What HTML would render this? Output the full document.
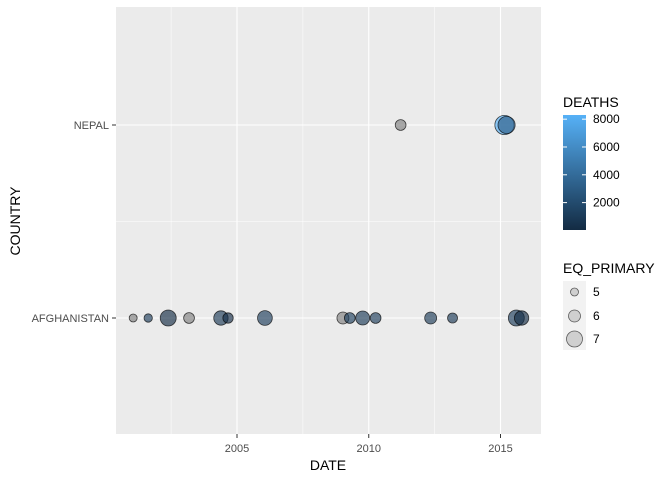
<!DOCTYPE html>
<html><head><meta charset="utf-8"><style>
body{margin:0;background:#fff;font-family:"Liberation Sans",Arial,sans-serif}
text{font-family:"Liberation Sans",Arial,sans-serif}
</style></head><body>
<svg id="c" width="672" height="480" xmlns="http://www.w3.org/2000/svg">
<defs><linearGradient id="g" x1="0" y1="1" x2="0" y2="0"><stop offset="0" stop-color="#132B43"/><stop offset="1" stop-color="#56B1F7"/></linearGradient></defs>
<rect x="116" y="7" width="425" height="427" fill="#EBEBEB"/>
<g id="grid"></g><g id="pts"></g><g id="axes"></g>
<text x="328" y="470" font-size="14" text-anchor="middle" fill="#000">DATE</text>
<text transform="translate(20,221) rotate(-90)" font-size="14" text-anchor="middle" fill="#000">COUNTRY</text>
<g>
<text x="563" y="107" font-size="14">DEATHS</text>
<rect x="563" y="115" width="23" height="115" fill="url(#g)"/>
<g id="cbt"></g>
</g>
<g>
<text x="563" y="273" font-size="14">EQ_PRIMARY</text>
<rect x="563" y="281" width="23" height="69" fill="#F2F2F2"/>
<g id="sl"></g>
</g>
</svg>
<script>
const countries=["AFGHANISTAN","NEPAL"];
const dates=[2001.06,2001.63,2002.39,2003.18,2004.39,2004.66,2006.06,2009.02,2009.28,2009.77,2010.26,2012.35,2013.18,2015.6,2015.8,2011.21,2015.15,2015.23];
const countryOf=[0,0,0,0,0,0,0,0,0,0,0,0,0,0,0,1,1,1];
const mags=[5,5.1,7,5.7,6.6,5.6,6.7,6,5.7,6.5,5.7,6,5.5,7,6.6,5.7,7.8,7.3];
const deaths=[null,1100,40,null,1000,150,1100,null,1200,1000,1100,1000,900,1100,40,null,8300,3000];
const xTicks=[2005,2010,2015];
const cbTicks=[2000,4000,6000,8000];
const sizeBreaks=[5,6,7];
const X=v=>237+(v-2005)*26.35;
const Y=i=>318-i*193;
const R=m=>4+2*(m-5);
const dMin=30,dMax=8300;
const C=d=>{const t=Math.max(0,Math.min(1,(d-dMin)/(dMax-dMin)));const a=[0x13,0x2B,0x43],b=[0x56,0xB1,0xF7];return `rgb(${a.map((v,k)=>Math.round(v+(b[k]-v)*t)).join(',')})`;};
const CBY=d=>230-(d-dMin)/(dMax-dMin)*115;
const ns="http://www.w3.org/2000/svg";
function mk(p,tag,at){const e=document.createElementNS(ns,tag);for(const k in at)e.setAttribute(k,at[k]);p.appendChild(e);return e;}
const grid=document.getElementById('grid'),pts=document.getElementById('pts'),axes=document.getElementById('axes');
[2002.5,2007.5,2012.5].forEach(v=>{const l=mk(grid,'line',{x1:X(v),x2:X(v),y1:7,y2:434,stroke:'#fff','stroke-width':0.5});

});
[221.5].forEach(v=>{const l=mk(grid,'line',{x1:116,x2:541,y1:v,y2:v,stroke:'#fff','stroke-width':0.5});

});
xTicks.forEach(v=>{const l=mk(grid,'line',{x1:X(v),x2:X(v),y1:7,y2:434,stroke:'#fff','stroke-width':1.1});


const t=mk(axes,'line',{x1:X(v),x2:X(v),y1:434,y2:438,stroke:'#333'});


const tx=mk(axes,'text',{x:X(v),y:452,'font-size':11,'text-anchor':'middle',fill:'#4D4D4D'});tx.textContent=v;

});
countries.forEach((c,i)=>{const l=mk(grid,'line',{x1:116,x2:541,y1:Y(i),y2:Y(i),stroke:'#fff','stroke-width':1.1});


const t=mk(axes,'line',{x1:112,x2:116,y1:Y(i),y2:Y(i),stroke:'#333'});


const tx=mk(axes,'text',{x:109,y:Y(i)+4,'font-size':11,'text-anchor':'end',fill:'#4D4D4D'});tx.textContent=c;

});
dates.forEach((d,i)=>{const p=mk(pts,'circle',{cx:X(d),cy:Y(countryOf[i]),r:R(mags[i]),fill:deaths[i]==null?'#7f7f7f':C(deaths[i]),'fill-opacity':0.65,stroke:'#000','stroke-opacity':0.7,'stroke-width':0.8});

});
const cbt=document.getElementById('cbt');
cbTicks.forEach(v=>{const y=CBY(v);
const a=mk(cbt,'line',{x1:563,x2:567,y1:y,y2:y,stroke:'#fff'});


const b=mk(cbt,'line',{x1:582,x2:586,y1:y,y2:y,stroke:'#fff'});


const t=mk(cbt,'text',{x:593,y:y+4,'font-size':12,fill:'#000'});t.textContent=v;

});
const sl=document.getElementById('sl');
sizeBreaks.forEach((m,i)=>{const y=[292,316,339][i];
const c=mk(sl,'circle',{cx:574.5,cy:y,r:R(m),fill:'#7f7f7f','fill-opacity':0.3,stroke:'#000','stroke-opacity':0.6,'stroke-width':0.8});


const t=mk(sl,'text',{x:593,y:y+4,'font-size':12,fill:'#000'});t.textContent=m;

});
</script>
</body></html>
